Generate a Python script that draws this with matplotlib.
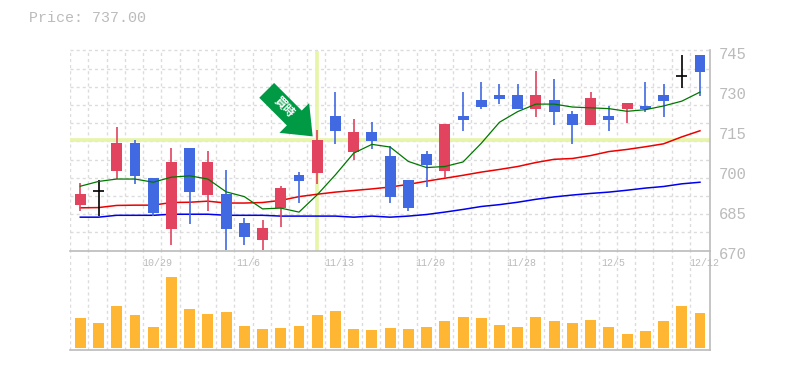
import matplotlib
matplotlib.use('Agg')
import matplotlib.pyplot as plt
import numpy as np
from matplotlib.transforms import ScaledTranslation

plt.rcParams['font.family'] = ['Liberation Mono', 'DejaVu Sans Mono']

highs = [695.2, 696.4, 716.2, 711.5, 697.2, 708.5, 708.5, 707.4, 700.2, 682.2, 681.5, 694.2, 699.5, 715.2, 729.5, 719.4, 718.2,
         709.2, 696.5, 707.4, 717.5, 729.5, 733.2, 732.5, 732.5, 737.4, 734.4, 722.4, 729.5, 724.2, 725.4, 733.2, 732.5, 743.4, 743.4]
lows = [684.9, 683.1, 696.8, 695.0, 683.1, 672.1, 680.0, 684.9, 670.0, 672.1, 670.0, 678.9, 687.9, 695.0, 710.0, 704.0, 708.1,
        687.9, 684.9, 693.9, 697.2, 714.9, 723.1, 725.0, 723.1, 720.1, 717.1, 710.0, 717.1, 714.9, 717.9, 722.0, 720.1, 731.0, 728.0]
tops = [691.2, 692.2, 710.4, 710.4, 697.2, 703.2, 708.5, 703.2, 691.2, 680.4, 678.5, 693.5, 698.4, 711.5, 720.5, 714.5, 714.5,
        705.5, 696.5, 706.2, 717.5, 720.5, 726.5, 728.4, 728.4, 728.4, 726.5, 721.2, 727.2, 720.5, 725.4, 724.2, 728.4, 735.5, 743.4]
bottoms = [687.1, 692.2, 699.9, 698.0, 684.1, 678.1, 692.0, 690.9, 678.1, 675.1, 674.0, 686.0, 696.1, 699.1, 714.9, 707.0, 711.1,
           690.1, 686.0, 702.1, 699.9, 719.0, 723.9, 726.9, 723.1, 723.1, 722.0, 717.1, 717.1, 719.0, 723.1, 723.1, 726.1, 735.5, 737.0]
kinds = ['r', 'k', 'r', 'b', 'b', 'r', 'b', 'r', 'b', 'b', 'r', 'r', 'b', 'r', 'b', 'r', 'b',
         'b', 'b', 'b', 'r', 'b', 'b', 'b', 'b', 'r', 'b', 'b', 'r', 'b', 'r', 'b', 'b', 'k', 'b']

ma_short = [694.1, 695.9, 696.8, 696.8, 695.6, 697.5, 698.0, 696.8, 692.0, 690.2, 685.6, 685.9, 684.4, 690.9, 698.4, 706.5, 709.8,
            708.8, 703.4, 701.1, 701.5, 703.2, 710.2, 718.1, 722.1, 724.9, 724.9, 723.8, 723.5, 723.2, 722.2, 722.8, 724.2, 726.0, 729.4]
ma_mid = [686.0, 686.1, 686.9, 687.0, 687.0, 688.0, 688.1, 688.5, 687.8, 687.8, 688.0, 688.8, 690.2, 691.1, 691.9, 692.5, 693.1,
          693.8, 694.8, 696.0, 697.1, 698.2, 699.4, 700.4, 701.5, 703.0, 704.2, 704.5, 705.6, 707.1, 707.9, 708.9, 710.0, 712.6, 714.9]
ma_long = [682.5, 682.5, 683.2, 683.2, 683.2, 683.6, 683.6, 683.6, 683.2, 683.2, 683.2, 682.9, 682.9, 682.9, 682.9, 682.5, 682.9,
           682.5, 682.9, 683.5, 684.4, 685.4, 686.5, 687.2, 688.1, 689.2, 690.1, 690.8, 691.4, 691.9, 692.6, 693.4, 694.0, 695.0, 695.6]

volumes = [30, 25, 42, 33, 21, 71, 39, 34, 36, 22, 19, 20, 22, 33, 37, 19, 18, 20,
           19, 21, 27, 31, 30, 23, 21, 31, 27, 25, 28, 21, 14, 17, 27, 42, 35]

date_idx = [4, 9, 14, 19, 24, 29, 34]
date_labels = ['10/29', '11/6', '11/13', '11/20', '11/28', '12/5', '12/12']
price_ticks = [670, 685, 700, 715, 730, 745]
cross_idx = 13
cross_price = 711.4
current_price = '737.00'

colors = {'r': '#e2435f', 'b': '#4169e1', 'k': '#000000'}
gray = '#bbbbbb'
grid = '#dcdcdc'
dash = (0, (2.2, 2.2))

W, H = 785, 370
fig = plt.figure(figsize=(W / 100, H / 100), dpi=100)
vol = fig.add_axes([70 / W, 1 - 349.5 / H, 640 / W, 99 / H])
ax = fig.add_axes([70 / W, 1 - 250.5 / H, 640 / W, 200 / H])

x = np.arange(len(highs))
xlim = (-0.565, 34.55)
grid_x = x - 0.55

for a in (ax, vol):
    a.set_xlim(*xlim)
    a.patch.set_visible(False)
    a.vlines(grid_x, 0, 1, transform=a.get_xaxis_transform(), color=grid, lw=1, ls=dash, zorder=0)
    for s in a.spines.values():
        s.set_color(gray)
        s.set_linewidth(1.2)
    a.spines['top'].set_visible(False)
    a.spines['left'].set_visible(False)

ax.set_ylim(670, 745)
ax.hlines(np.linspace(670, 745, 12)[1:], xlim[0], xlim[1], color=grid, lw=1, ls=dash, zorder=0, clip_on=False)

# crosshair
ax.axhline(cross_price, color='#e6f5a8', lw=2.6, zorder=1)
ax.axvline(cross_idx, color='#e6f5a8', lw=2.6, zorder=1)

ax.plot(x, ma_long, color='#0000ee', lw=1.1, zorder=2)
ax.plot(x, ma_mid, color='#ee0000', lw=1.1, zorder=2)

for i in x:
    c = colors[kinds[i]]
    ax.vlines(i, lows[i], highs[i], color=c, lw=1.2, zorder=3)
    if kinds[i] == 'k':
        ax.hlines(tops[i], i - 0.3, i + 0.3, color=c, lw=1.2, zorder=3)
    else:
        ax.bar(i, tops[i] - bottoms[i], bottom=bottoms[i], width=0.6, color=c, zorder=3)

ax.plot(x, ma_short, color='#007700', lw=0.9, zorder=4)

# price labels sit a little under their levels
ax.yaxis.tick_right()
ax.set_yticks(price_ticks)
ax.set_yticklabels(price_ticks, fontsize=11.2, color=gray)
ax.tick_params(axis='y', length=0, pad=6.5)
shift = ScaledTranslation(0, -3 / 100, fig.dpi_scale_trans)
for t in ax.get_yticklabels():
    t.set_transform(t.get_transform() + shift)

ax.set_xticks(date_idx)
ax.set_xticklabels(date_labels, fontsize=7.2, color=gray)
ax.tick_params(axis='x', length=0, pad=5.5)
shift_x = ScaledTranslation(4 / 100, 0, fig.dpi_scale_trans)
for t in ax.get_xticklabels():
    t.set_transform(t.get_transform() + shift_x)

vol.bar(x, volumes, width=0.6, color='#ffb733', zorder=3)
vol.set_ylim(-1.5, 97.5)
vol.set_xticks([])
vol.set_yticks([])

# signal arrow
ax.annotate('', xy=(cross_idx - 0.25, 712.8), xytext=(-46, 46), textcoords='offset pixels',
            arrowprops=dict(width=21 * 0.72, headwidth=42 * 0.72, headlength=26 * 0.72, color='#009944', lw=0, shrink=0),
            zorder=5)
fig.text(284.5 / W, 1 - 107.5 / H, '買時', family=['Noto Sans CJK JP', 'DejaVu Sans'], fontsize=8.5, fontweight='bold',
         color='white', rotation=-45, ha='center', va='center', zorder=6)

fig.text(29 / W, 1 - 18 / H, 'Price: ' + current_price, fontsize=10.8, color=gray, ha='left', va='center')

fig.savefig('out.png', dpi=100)
